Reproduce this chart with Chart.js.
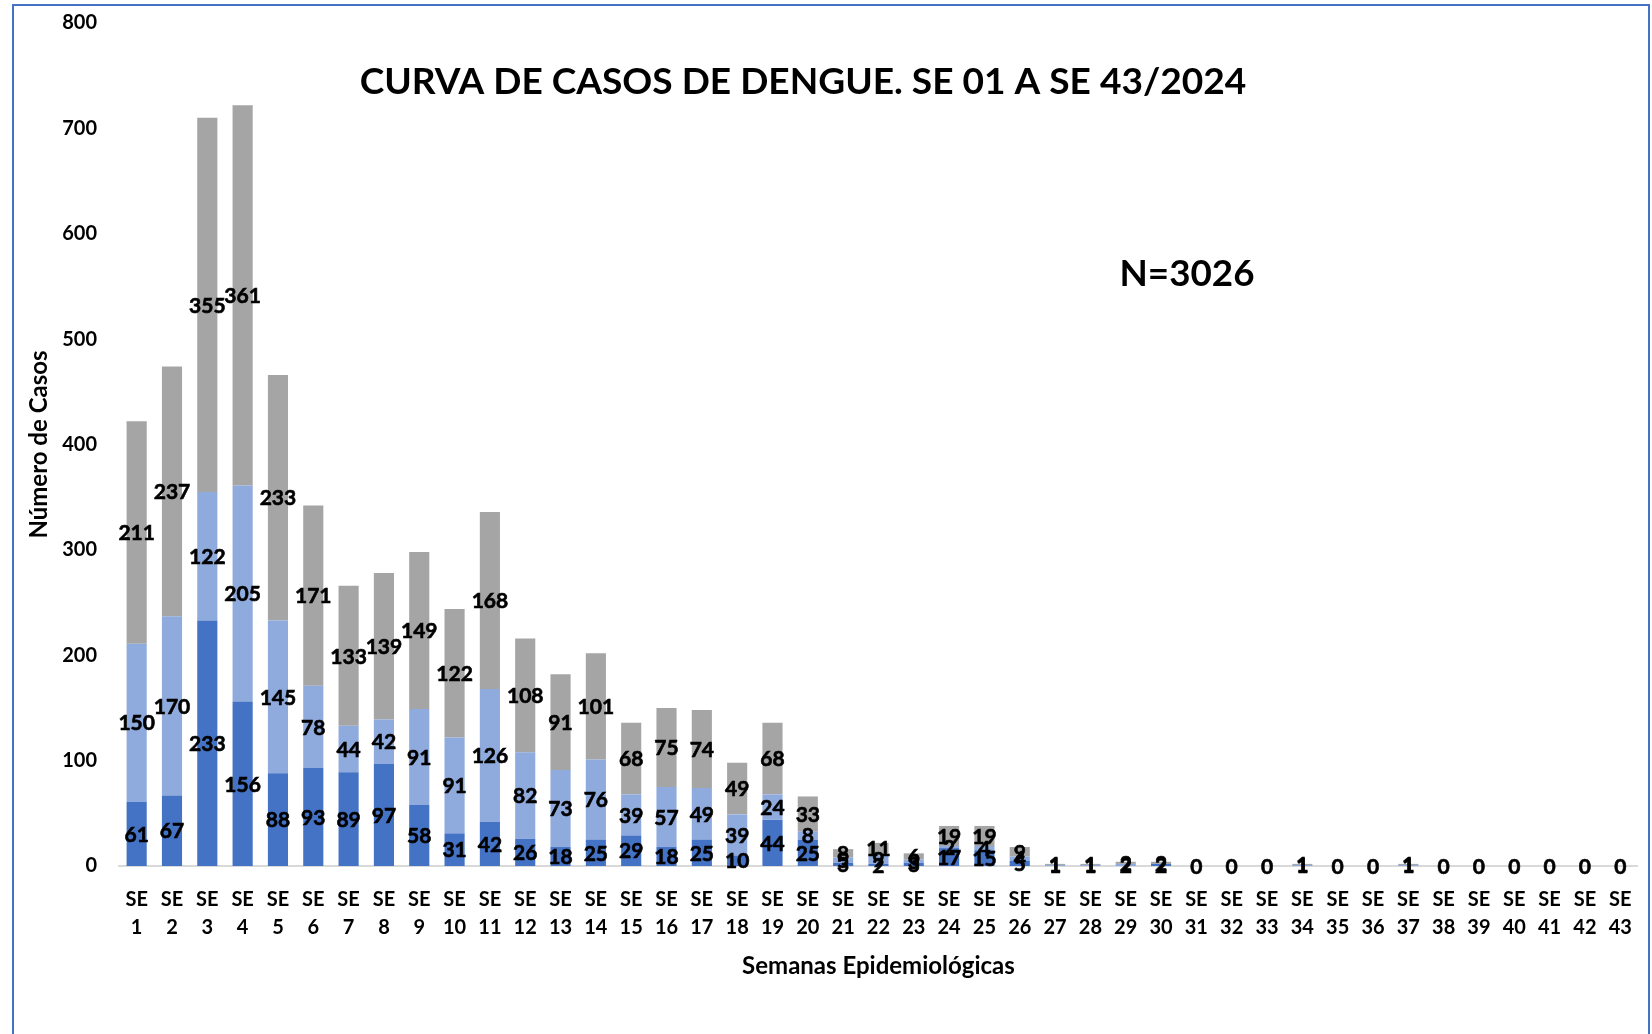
<!DOCTYPE html>
<html><head><meta charset="utf-8">
<script src="https://cdn.jsdelivr.net/npm/chart.js@4.4.1/dist/chart.umd.min.js"></script>
<style>
html,body{margin:0;padding:0;background:#fff;overflow:hidden}
#wrap{position:absolute;left:0;top:0;width:1652px;height:1034px}
#frame{position:absolute;left:12px;top:4px;width:1638px;height:1100px;border:2px solid #4472C4;box-sizing:border-box;pointer-events:none}
</style></head><body>
<div id="wrap"><canvas id="c" width="1652" height="1034"></canvas></div>
<div id="frame"></div>
<script>
const chartTitle = 'CURVA DE CASOS DE DENGUE. SE 01 A SE 43/2024';
const totalNote = 'N=3026';
const yAxisTitle = 'Número de Casos';
const xAxisTitle = 'Semanas Epidemiológicas';
const categories = ['SE 1','SE 2','SE 3','SE 4','SE 5','SE 6','SE 7','SE 8','SE 9','SE 10','SE 11','SE 12','SE 13','SE 14','SE 15','SE 16','SE 17','SE 18','SE 19','SE 20','SE 21','SE 22','SE 23','SE 24','SE 25','SE 26','SE 27','SE 28','SE 29','SE 30','SE 31','SE 32','SE 33','SE 34','SE 35','SE 36','SE 37','SE 38','SE 39','SE 40','SE 41','SE 42','SE 43'];
const seriesA = [61,67,233,156,88,93,89,97,58,31,42,26,18,25,29,18,25,10,44,25,3,2,3,17,15,5,0,0,0,2,0,0,0,0,0,0,0,0,0,0,0,0,0];
const seriesB = [150,170,122,205,145,78,44,42,91,91,126,82,73,76,39,57,49,39,24,8,5,9,3,2,4,4,1,1,2,0,0,0,0,1,0,0,1,0,0,0,0,0,0];
const seriesTotal = [211,237,355,361,233,171,133,139,149,122,168,108,91,101,68,75,74,49,68,33,8,11,6,19,19,9,1,1,2,2,0,0,0,1,0,0,1,0,0,0,0,0,0];
const yTicks = [0,100,200,300,400,500,600,700,800];

const FONT = 'Lato, "Open Sans", sans-serif';

const segLabels = {
  id: 'segLabels',
  afterDatasetsDraw(chart) {
    const ctx = chart.ctx;
    ctx.save();
    ctx.font = 'bold 21px ' + FONT;
    ctx.fillStyle = '#000';
    ctx.strokeStyle = '#000';
    ctx.lineWidth = 0.6;
    ctx.textAlign = 'center';
    ctx.textBaseline = 'middle';
    chart.data.datasets.forEach((ds, i) => {
      const meta = chart.getDatasetMeta(i);
      meta.data.forEach((bar, j) => {
        const v = ds.data[j];
        if (v === 0 && !ds.showZero) return;
        const y = (bar.y + bar.base) / 2 + 1;
        ctx.fillText(String(v), bar.x, y);
        ctx.strokeText(String(v), bar.x, y);
      });
    });
    ctx.restore();
  }
};

const texts = {
  id: 'texts',
  afterDraw(chart) {
    const ctx = chart.ctx;
    ctx.save();
    ctx.fillStyle = '#000';
    ctx.textAlign = 'center';
    ctx.textBaseline = 'middle';
    const fit = (txt, w, base) => {
      let s = base;
      ctx.font = 'bold ' + s + 'px ' + FONT;
      const m = ctx.measureText(txt).width;
      s = s * w / m;
      ctx.font = 'bold ' + s.toFixed(2) + 'px ' + FONT;
    };
    fit(chartTitle, 887, 33);
    ctx.fillText(chartTitle, 803, 82);
    fit(totalNote, 135, 33);
    ctx.fillText(totalNote, 1187, 274);
    ctx.restore();
  }
};

function build() {
  new Chart(document.getElementById('c'), {
    type: 'bar',
    data: {
      labels: categories,
      datasets: [
        { data: seriesA, backgroundColor: '#4472C4', stack: 's' },
        { data: seriesB, backgroundColor: '#8FAADC', stack: 's' },
        { data: seriesTotal, backgroundColor: '#A5A5A5', stack: 's', showZero: true }
      ]
    },
    options: {
      responsive: false,
      animation: false,
      devicePixelRatio: 1,
      layout: { padding: { left: 0, right: 13, top: 23, bottom: 0 } },
      plugins: { legend: { display: false }, tooltip: { enabled: false }, title: { display: false } },
      datasets: { bar: { categoryPercentage: 0.57, barPercentage: 1 } },
      scales: {
        x: {
          stacked: true,
          grid: { display: false, drawTicks: false },
          border: { display: true, color: '#D9D9D9', width: 2 },
          ticks: {
            autoSkip: false, maxRotation: 0, minRotation: 0, padding: 20,
            color: '#000', font: { family: FONT, weight: 'bold', size: 20, lineHeight: 1.4 },
            callback: (v, i) => categories[i].split(' ')
          },
          title: { display: true, text: xAxisTitle, color: '#000', font: { family: FONT, weight: 'bold', size: 24, lineHeight: 1.2 }, padding: { top: 0, bottom: 53 } },
          afterFit: (s) => { s.height = 1034 - 866; }
        },
        y: {
          stacked: true, min: 0, max: 800,
          grid: { display: false, drawTicks: false },
          border: { display: false },
          afterBuildTicks: (s) => { s.ticks = yTicks.map(v => ({ value: v })); },
          ticks: { padding: 22, color: '#000', font: { family: FONT, weight: 'bold', size: 20 } },
          title: { display: true, text: yAxisTitle, color: '#000', font: { family: FONT, weight: 'bold', size: 24, lineHeight: 1.2 }, padding: { top: 25, bottom: 0 } },
          afterFit: (s) => { s.width = 119; s.paddingTop = 0; s.paddingBottom = 0; }
        }
      }
    },
    plugins: [segLabels, texts]
  });
}
(document.fonts ? document.fonts.load('bold 20px Lato') : Promise.resolve()).then(build, build);
</script>
</body></html>
